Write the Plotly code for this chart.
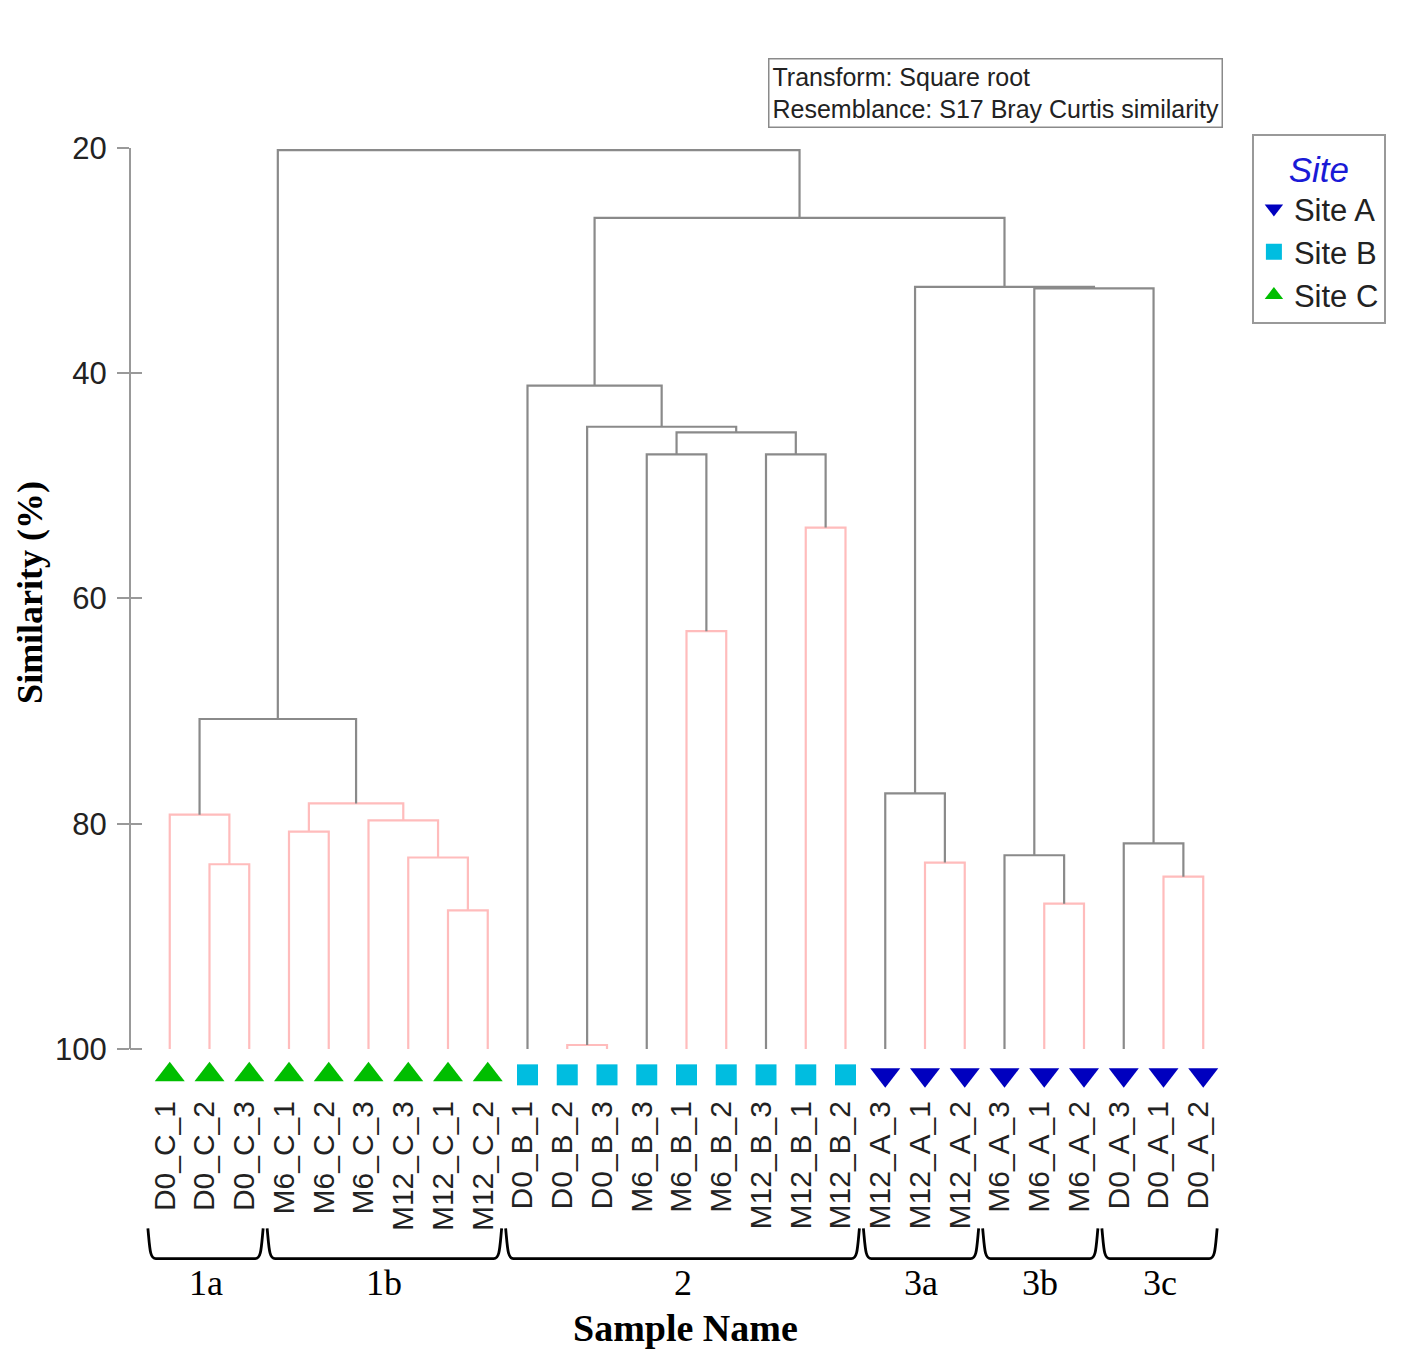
import plotly.graph_objects as go

# leaf order as shown in the dendrogram
leaves = ["D0_C_1", "D0_C_2", "D0_C_3", "M6_C_1", "M6_C_2", "M6_C_3",
          "M12_C_3", "M12_C_1", "M12_C_2",
          "D0_B_1", "D0_B_2", "D0_B_3", "M6_B_3", "M6_B_1", "M6_B_2",
          "M12_B_3", "M12_B_1", "M12_B_2",
          "M12_A_3", "M12_A_1", "M12_A_2", "M6_A_3", "M6_A_1", "M6_A_2",
          "D0_A_3", "D0_A_1", "D0_A_2"]
leaf_site = ["C"] * 9 + ["B"] * 9 + ["A"] * 9

# linkage: children are leaf names or index of an earlier merge
merge_left = ["D0_C_2", "D0_C_1", "M12_C_1", "M12_C_3", "M6_C_3", "M6_C_1", 5, 1,
              "D0_B_2", "M6_B_1", "M6_B_3", "M12_B_1", "M12_B_3", 10, 8, "D0_B_1",
              "M12_A_1", "M12_A_3", "M6_A_1", "M6_A_3", "D0_A_1", "D0_A_3",
              19, 17, 15, 7]
merge_right = ["D0_C_3", 0, "M12_C_2", 2, 3, "M6_C_2", 4, 6,
               "D0_B_3", "M6_B_2", 9, "M12_B_2", 11, 12, 13, 14,
               "M12_A_2", 16, "M6_A_2", 18, "D0_A_2", 20,
               21, 22, 23, 24]
merge_sim = [83.6, 79.2, 87.7, 83.0, 79.7, 80.7, 78.2, 70.7,
             99.65, 62.9, 47.2, 53.7, 47.2, 45.25, 44.75, 41.1,
             83.45, 77.3, 87.1, 82.8, 84.7, 81.75,
             32.47, 32.34, 26.2, 20.18]
# False = not significantly different (SIMPROF), drawn in red
merge_signif = [False, False, False, False, False, False, False, True,
                False, False, True, False, True, True, True, True,
                False, True, False, True, False, True,
                True, True, True, True]

group_names = ["1a", "1b", "2", "3a", "3b", "3c"]
group_first = ["D0_C_1", "M6_C_1", "D0_B_1", "M12_A_3", "M6_A_3", "D0_A_3"]
group_last = ["D0_C_3", "M12_C_2", "M12_B_2", "M12_A_2", "M6_A_2", "D0_A_2"]

y_ticks = [20, 40, 60, 80, 100]

sites = ["A", "B", "C"]
site_symbol = {"A": "triangle-down", "B": "square", "C": "triangle-up"}
site_colour = {"A": "#0000bf", "B": "#00bde0", "C": "#00be00"}
site_size = {"A": 26, "B": 21, "C": 26}

GREY = "#8a8a8a"
PINK = "#ffbcbc"
TICKFONT = "Arial, Liberation Sans, sans-serif"
SERIF = "Times New Roman, Liberation Serif, serif"

pos = {name: i + 1 for i, name in enumerate(leaves)}
node_x, node_h = [], []


def where(c):
    if isinstance(c, str):
        return pos[c], 100.0
    return node_x[c], node_h[c]


seg = {True: ([], []), False: ([], [])}
for a, b, h, sig in zip(merge_left, merge_right, merge_sim, merge_signif):
    xa, ha = where(a)
    xb, hb = where(b)
    xs, ys = seg[sig]
    xs += [xa, xa, xb, xb, None]
    ys += [ha, h, h, hb, None]
    node_x.append((xa + xb) / 2)
    node_h.append(h)

fig = go.Figure()
# red first so grey sits on top
for sig, col in [(False, PINK), (True, GREY)]:
    fig.add_trace(go.Scatter(x=seg[sig][0], y=seg[sig][1], mode="lines",
                             line=dict(color=col, width=2.2),
                             hoverinfo="skip", showlegend=False))

for s in sites:
    xs = [pos[n] for n, ls in zip(leaves, leaf_site) if ls == s]
    fig.add_trace(go.Scatter(
        x=xs, y=[102.3] * len(xs), mode="markers", name="Site " + s,
        marker=dict(symbol=site_symbol[s], color=site_colour[s],
                    size=site_size[s], line=dict(width=0)),
        cliponaxis=False))

# invisible trace so the inner tick axis gets drawn
fig.add_trace(go.Scatter(x=[], y=[], yaxis="y2", showlegend=False))

# y axis line only from 20 to 100
fig.add_shape(type="line", xref="paper", yref="y", x0=0, x1=0,
              y0=y_ticks[0], y1=y_ticks[-1], line=dict(color="#999", width=2))

# brackets under the sample names
for name, f, l in zip(group_names, group_first, group_last):
    x0 = pos[f] - 0.55
    x1 = pos[l] + 0.35
    yt, yb = -0.142, -0.174
    path = (f"M {x0},{yt} C {x0 + 0.05},{yb + 0.01} {x0 + 0.05},{yb} {x0 + 0.2},{yb} "
            f"L {x1 - 0.2},{yb} C {x1 - 0.05},{yb} {x1 - 0.05},{yb + 0.01} {x1},{yt}")
    fig.add_shape(type="path", path=path, xref="x", yref="paper",
                  line=dict(color="black", width=2.8))
    fig.add_annotation(x=(x0 + x1) / 2, y=-0.200, xref="x", yref="paper",
                       text=name, showarrow=False, xanchor="center",
                       yanchor="middle",
                       font=dict(family=SERIF, size=36, color="black"))

fig.add_annotation(x=0.4987, y=-0.2476, xref="paper", yref="paper",
                   text="<b>Sample Name</b>", showarrow=False,
                   xanchor="center", yanchor="middle",
                   font=dict(family=SERIF, size=38, color="black"))
fig.add_annotation(x=-0.0905, y=0.530, xref="paper", yref="paper",
                   text="<b>Similarity (%)</b>", showarrow=False, textangle=-90,
                   xanchor="center", yanchor="middle", borderpad=0,
                   font=dict(family=SERIF, size=36, color="black"))
fig.add_annotation(x=0.573, y=1.095, xref="paper", yref="paper",
                   xanchor="left", yanchor="top", align="left",
                   text="Transform: Square root<br>Resemblance: S17 Bray Curtis similarity",
                   showarrow=False, bordercolor="#8a8a8a", borderwidth=1.5,
                   borderpad=3, bgcolor="white",
                   font=dict(family=TICKFONT, size=25, color="#222"))

fig.update_layout(
    width=1413, height=1342,
    margin=dict(l=122, r=178, t=140, b=256),
    plot_bgcolor="white", paper_bgcolor="white",
    xaxis=dict(range=[0, 28], tickvals=list(range(1, len(leaves) + 1)),
               ticktext=leaves, tickangle=-90, ticks="", showline=False,
               showgrid=False, zeroline=False, ticklabelstandoff=0,
               ticklabelshift=-5,
               tickfont=dict(family=TICKFONT, size=30, color="#222")),
    yaxis=dict(range=[104, 20], tickvals=y_ticks,
               ticks="outside", ticklen=12, tickwidth=1.5, tickcolor="#999",
               showline=False, showgrid=False, zeroline=False,
               ticklabelstandoff=4,
               tickfont=dict(family=TICKFONT, size=31, color="#222")),
    yaxis2=dict(range=[104, 20], overlaying="y", side="left", anchor="x",
                tickvals=y_ticks, ticks="inside", ticklen=12,
                tickwidth=1.5, tickcolor="#999", showticklabels=False,
                showgrid=False, zeroline=False, showline=False),
    legend=dict(x=1.008, y=1.0145, xanchor="left", yanchor="top",
                bordercolor="#999", borderwidth=2, bgcolor="white",
                title=dict(text="Site", side="top center",
                           font=dict(family=TICKFONT, size=35, color="#1a1ad6",
                                     style="italic")),
                font=dict(family=TICKFONT, size=31, color="#222"),
                itemwidth=30, tracegroupgap=0),
)

fig.write_html("out.html")
